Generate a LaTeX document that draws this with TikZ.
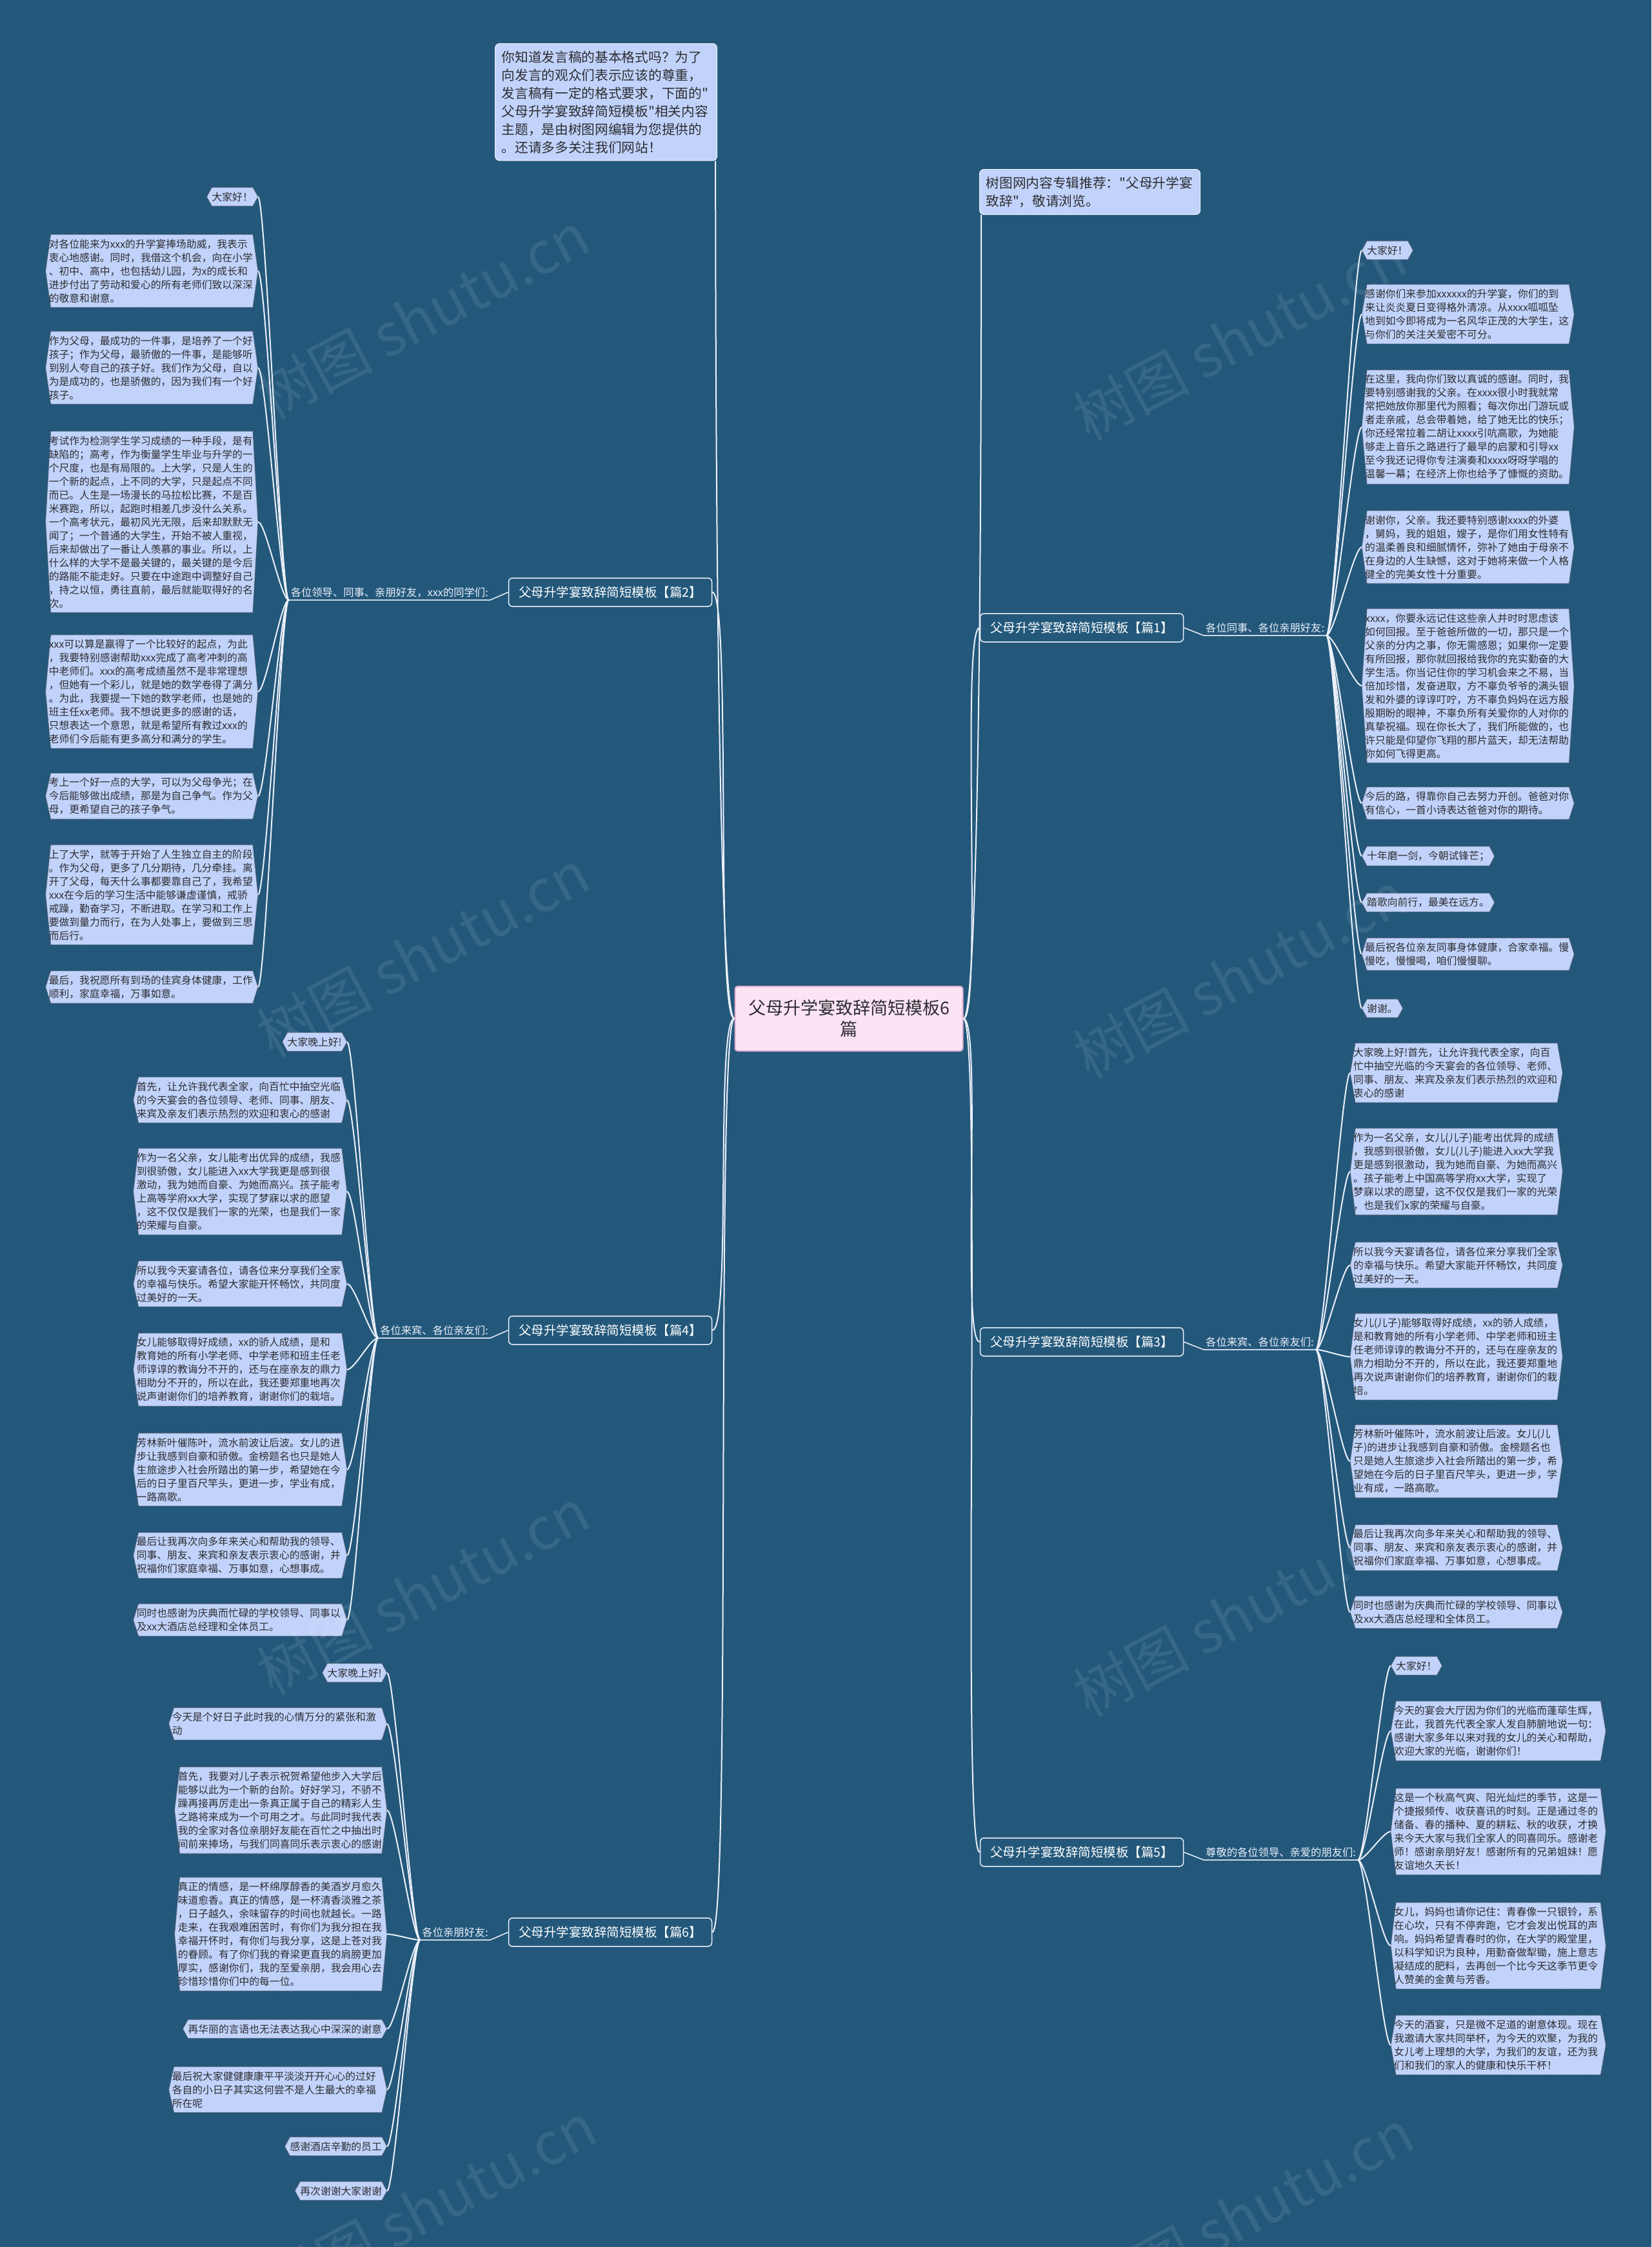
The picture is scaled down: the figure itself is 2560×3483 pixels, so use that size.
\documentclass[tikz,border=0pt]{standalone}
\usepackage{fontspec}
\newfontfamily\cjk{Noto Sans CJK SC}
\usetikzlibrary{calc,backgrounds}
\definecolor{bgblue}{RGB}{35,88,123}
\definecolor{leaffill}{RGB}{193,211,250}
\definecolor{leafline}{RGB}{70,75,90}
\definecolor{leaftext}{RGB}{45,45,50}
\definecolor{pinkfill}{RGB}{253,228,245}
\definecolor{pinkline}{RGB}{225,175,210}
\definecolor{linecol}{RGB}{235,240,250}
\tikzset{
  leaf/.style={font=\cjk\fontsize{15.8}{21}\selectfont, text=leaftext, inner xsep=5pt, inner ysep=7pt, align=left},
  sleaf/.style={font=\cjk\fontsize{15.8}{21}\selectfont, text=leaftext, inner xsep=8pt, inner ysep=7pt},
  hexa/.style={fill=leaffill, draw=leafline, densely dotted, line width=1.1pt},
  conn/.style={draw=linecol, line width=2pt},
  branch/.style={font=\cjk\fontsize{19.5}{24}\selectfont, text=white, draw=linecol, line width=1.5pt, rounded corners=6pt, fill=bgblue, minimum width=315pt, minimum height=44pt, inner sep=2pt},
  sublabel/.style={font=\cjk\fontsize{16.3}{19}\selectfont, text=linecol, inner xsep=3pt, inner ysep=4pt},
  info/.style={font=\cjk\fontsize{20.7}{28}\selectfont, text=leaftext, fill=leaffill, draw=linecol, line width=1.2pt, rounded corners=7pt, inner xsep=10pt, inner ysep=11pt, align=left},
  wm/.style={font=\cjk\fontsize{90}{90}\selectfont, text=white, opacity=0.09, rotate=28}
}
\begin{document}
\begin{tikzpicture}[x=1pt,y=-1pt]
\useasboundingbox (0,0) rectangle (2560,3483);
\begin{scope}[on background layer]
\fill[bgblue] (0,0) rectangle (2560,3483);
\end{scope}

% watermarks
\node[wm] (w1) at (656,489) {树图 shutu.cn};
\node[wm] (w2) at (656,1478) {树图 shutu.cn};
\node[wm] (w3) at (656,2467) {树图 shutu.cn};
\node[wm] (w4) at (667,3420) {树图 shutu.cn};
\node[wm] (w5) at (1922,522) {树图 shutu.cn};
\node[wm] (w6) at (1922,1511) {树图 shutu.cn};
\node[wm] (w7) at (1922,2500) {树图 shutu.cn};
\node[wm] (w8) at (1933,3430) {树图 shutu.cn};

% center
\node[font=\cjk\fontsize{27}{33}\selectfont, text=leaftext, fill=pinkfill, draw=pinkline, line width=2pt, rounded corners=4pt, minimum width=353pt, minimum height=100pt, align=center] (c) at (1316,1579) {父母升学宴致辞简短模板6\\篇};

% info boxes
\node[info, anchor=north west, text width=324pt] (intro) at (767,67) {你知道发言稿的基本格式吗？为了\\向发言的观众们表示应该的尊重，\\发言稿有一定的格式要求，下面的"\\父母升学宴致辞简短模板"相关内容\\主题，是由树图网编辑为您提供的\\。还请多多关注我们网站！};
\node[info, anchor=north west, text width=322pt] (rec) at (1518,262) {树图网内容专辑推荐："父母升学宴\\致辞"，敬请浏览。};

% branches
\node[branch] (b2) at (946,918) {父母升学宴致辞简短模板【篇2】};
\node[branch] (b4) at (946,2062) {父母升学宴致辞简短模板【篇4】};
\node[branch] (b6) at (946,2995) {父母升学宴致辞简短模板【篇6】};
\node[branch] (b1) at (1677,973) {父母升学宴致辞简短模板【篇1】};
\node[branch] (b3) at (1677,2080) {父母升学宴致辞简短模板【篇3】};
\node[branch] (b5) at (1677,2871) {父母升学宴致辞简短模板【篇5】};

% sub labels
\node[sublabel, anchor=south east] (s2) at (760,930) {各位领导、同事、亲朋好友，xxx的同学们:};
\node[sublabel, anchor=south east] (s4) at (760,2074) {各位来宾、各位亲友们:};
\node[sublabel, anchor=south east] (s6) at (760,3007) {各位亲朋好友:};
\node[sublabel, anchor=south west] (s1) at (1866,985) {各位同事、各位亲朋好友:};
\node[sublabel, anchor=south west] (s3) at (1866,2092) {各位来宾、各位亲友们:};
\node[sublabel, anchor=south west] (s5) at (1866,2883) {尊敬的各位领导、亲爱的朋友们:};

% ---------- leaves 篇2 (left) ----------
\node[sleaf, anchor=east] (L2a) at (400,305) {大家好！};
\node[leaf, anchor=east, text width=319pt] (L2b) at (400,420) {对各位能来为xxx的升学宴捧场助威，我表示\\衷心地感谢。同时，我借这个机会，向在小学\\、初中、高中，也包括幼儿园，为x的成长和\\进步付出了劳动和爱心的所有老师们致以深深\\的敬意和谢意。};
\node[leaf, anchor=east, text width=319pt] (L2c) at (400,570) {作为父母，最成功的一件事，是培养了一个好\\孩子；作为父母，最骄傲的一件事，是能够听\\到别人夸自己的孩子好。我们作为父母，自以\\为是成功的，也是骄傲的，因为我们有一个好\\孩子。};
\node[leaf, anchor=east, text width=319pt] (L2d) at (400,809) {考试作为检测学生学习成绩的一种手段，是有\\缺陷的；高考，作为衡量学生毕业与升学的一\\个尺度，也是有局限的。上大学，只是人生的\\一个新的起点，上不同的大学，只是起点不同\\而已。人生是一场漫长的马拉松比赛，不是百\\米赛跑，所以，起跑时相差几步没什么关系。\\一个高考状元，最初风光无限，后来却默默无\\闻了；一个普通的大学生，开始不被人重视，\\后来却做出了一番让人羡慕的事业。所以，上\\什么样的大学不是最关键的，最关键的是今后\\的路能不能走好。只要在中途跑中调整好自己\\，持之以恒，勇往直前，最后就能取得好的名\\次。};
\node[leaf, anchor=east, text width=319pt] (L2e) at (400,1072) {xxx可以算是赢得了一个比较好的起点，为此\\，我要特别感谢帮助xxx完成了高考冲刺的高\\中老师们。xxx的高考成绩虽然不是非常理想\\，但她有一个彩儿，就是她的数学卷得了满分\\。为此，我要提一下她的数学老师，也是她的\\班主任xx老师。我不想说更多的感谢的话，\\只想表达一个意思，就是希望所有教过xxx的\\老师们今后能有更多高分和满分的学生。};
\node[leaf, anchor=east, text width=319pt] (L2f) at (400,1234) {考上一个好一点的大学，可以为父母争光；在\\今后能够做出成绩，那是为自己争气。作为父\\母，更希望自己的孩子争气。};
\node[leaf, anchor=east, text width=319pt] (L2g) at (400,1387) {上了大学，就等于开始了人生独立自主的阶段\\。作为父母，更多了几分期待，几分牵挂。离\\开了父母，每天什么事都要靠自己了，我希望\\xxx在今后的学习生活中能够谦虚谨慎，戒骄\\戒躁，勤奋学习，不断进取。在学习和工作上\\要做到量力而行，在为人处事上，要做到三思\\而后行。};
\node[leaf, anchor=east, text width=319pt] (L2h) at (400,1530) {最后，我祝愿所有到场的佳宾身体健康，工作\\顺利，家庭幸福，万事如意。};

% ---------- leaves 篇1 (right) ----------
\node[sleaf, anchor=west] (R1a) at (2111,388) {大家好！};
\node[leaf, anchor=west, text width=319pt] (R1b) at (2111,487) {感谢你们来参加xxxxxx的升学宴，你们的到\\来让炎炎夏日变得格外清凉。从xxxx呱呱坠\\地到如今即将成为一名风华正茂的大学生，这\\与你们的关注关爱密不可分。};
\node[leaf, anchor=west, text width=319pt] (R1c) at (2111,662) {在这里，我向你们致以真诚的感谢。同时，我\\要特别感谢我的父亲。在xxxx很小时我就常\\常把她放你那里代为照看；每次你出门游玩或\\者走亲戚，总会带着她，给了她无比的快乐；\\你还经常拉着二胡让xxxx引吭高歌，为她能\\够走上音乐之路进行了最早的启蒙和引导xx\\至今我还记得你专注演奏和xxxx呀呀学唱的\\温馨一幕；在经济上你也给予了慷慨的资助。};
\node[leaf, anchor=west, text width=319pt] (R1d) at (2111,848) {谢谢你，父亲。我还要特别感谢xxxx的外婆\\，舅妈，我的姐姐，嫂子，是你们用女性特有\\的温柔善良和细腻情怀，弥补了她由于母亲不\\在身边的人生缺憾，这对于她将来做一个人格\\健全的完美女性十分重要。};
\node[leaf, anchor=west, text width=319pt] (R1e) at (2111,1063) {xxxx，你要永远记住这些亲人并时时思虑该\\如何回报。至于爸爸所做的一切，那只是一个\\父亲的分内之事，你无需感恩；如果你一定要\\有所回报，那你就回报给我你的充实勤奋的大\\学生活。你当记住你的学习机会来之不易，当\\倍加珍惜，发奋进取，方不辜负爷爷的满头银\\发和外婆的谆谆叮咛，方不辜负妈妈在远方殷\\殷期盼的眼神，不辜负所有关爱你的人对你的\\真挚祝福。现在你长大了，我们所能做的，也\\许只能是仰望你飞翔的那片蓝天，却无法帮助\\你如何飞得更高。};
\node[leaf, anchor=west, text width=319pt] (R1f) at (2111,1245) {今后的路，得靠你自己去努力开创。爸爸对你\\有信心，一首小诗表达爸爸对你的期待。};
\node[sleaf, anchor=west] (R1g) at (2111,1327) {十年磨一剑，今朝试锋芒；};
\node[sleaf, anchor=west] (R1h) at (2111,1399) {踏歌向前行，最美在远方。};
\node[leaf, anchor=west, text width=319pt] (R1i) at (2111,1479) {最后祝各位亲友同事身体健康，合家幸福。慢\\慢吃，慢慢喝，咱们慢慢聊。};
\node[sleaf, anchor=west] (R1j) at (2111,1563) {谢谢。};

% ---------- leaves 篇4 (left) ----------
\node[sleaf, anchor=east] (L4a) at (538,1615) {大家晚上好!};
\node[leaf, anchor=east, text width=321pt] (L4b) at (538,1705) {首先，让允许我代表全家，向百忙中抽空光临\\的今天宴会的各位领导、老师、同事、朋友、\\来宾及亲友们表示热烈的欢迎和衷心的感谢};
\node[leaf, anchor=east, text width=321pt] (L4c) at (538,1847) {作为一名父亲，女儿能考出优异的成绩，我感\\到很骄傲，女儿能进入xx大学我更是感到很\\激动，我为她而自豪、为她而高兴。孩子能考\\上高等学府xx大学，实现了梦寐以求的愿望\\，这不仅仅是我们一家的光荣，也是我们一家\\的荣耀与自豪。};
\node[leaf, anchor=east, text width=321pt] (L4d) at (538,1990) {所以我今天宴请各位，请各位来分享我们全家\\的幸福与快乐。希望大家能开怀畅饮，共同度\\过美好的一天。};
\node[leaf, anchor=east, text width=321pt] (L4e) at (538,2123) {女儿能够取得好成绩，xx的骄人成绩，是和\\教育她的所有小学老师、中学老师和班主任老\\师谆谆的教诲分不开的，还与在座亲友的鼎力\\相助分不开的，所以在此，我还要郑重地再次\\说声谢谢你们的培养教育，谢谢你们的栽培。};
\node[leaf, anchor=east, text width=321pt] (L4f) at (538,2278) {芳林新叶催陈叶，流水前波让后波。女儿的进\\步让我感到自豪和骄傲。金榜题名也只是她人\\生旅途步入社会所踏出的第一步，希望她在今\\后的日子里百尺竿头，更进一步，学业有成，\\一路高歌。};
\node[leaf, anchor=east, text width=321pt] (L4g) at (538,2411) {最后让我再次向多年来关心和帮助我的领导、\\同事、朋友、来宾和亲友表示衷心的感谢，并\\祝福你们家庭幸福、万事如意，心想事成。};
\node[leaf, anchor=east, text width=321pt] (L4h) at (538,2511) {同时也感谢为庆典而忙碌的学校领导、同事以\\及xx大酒店总经理和全体员工。};

% ---------- leaves 篇3 (right) ----------
\node[leaf, anchor=west, text width=319pt] (R3a) at (2093,1663) {大家晚上好!首先，让允许我代表全家，向百\\忙中抽空光临的今天宴会的各位领导、老师、\\同事、朋友、来宾及亲友们表示热烈的欢迎和\\衷心的感谢};
\node[leaf, anchor=west, text width=319pt] (R3b) at (2093,1816) {作为一名父亲，女儿(儿子)能考出优异的成绩\\，我感到很骄傲，女儿(儿子)能进入xx大学我\\更是感到很激动，我为她而自豪、为她而高兴\\。孩子能考上中国高等学府xx大学，实现了\\梦寐以求的愿望，这不仅仅是我们一家的光荣\\，也是我们x家的荣耀与自豪。};
\node[leaf, anchor=west, text width=319pt] (R3c) at (2093,1961) {所以我今天宴请各位，请各位来分享我们全家\\的幸福与快乐。希望大家能开怀畅饮，共同度\\过美好的一天。};
\node[leaf, anchor=west, text width=319pt] (R3d) at (2093,2103) {女儿(儿子)能够取得好成绩，xx的骄人成绩，\\是和教育她的所有小学老师、中学老师和班主\\任老师谆谆的教诲分不开的，还与在座亲友的\\鼎力相助分不开的，所以在此，我还要郑重地\\再次说声谢谢你们的培养教育，谢谢你们的栽\\培。};
\node[leaf, anchor=west, text width=319pt] (R3e) at (2093,2265) {芳林新叶催陈叶，流水前波让后波。女儿(儿\\子)的进步让我感到自豪和骄傲。金榜题名也\\只是她人生旅途步入社会所踏出的第一步，希\\望她在今后的日子里百尺竿头，更进一步，学\\业有成，一路高歌。};
\node[leaf, anchor=west, text width=319pt] (R3f) at (2093,2399) {最后让我再次向多年来关心和帮助我的领导、\\同事、朋友、来宾和亲友表示衷心的感谢，并\\祝福你们家庭幸福、万事如意，心想事成。};
\node[leaf, anchor=west, text width=319pt] (R3g) at (2093,2499) {同时也感谢为庆典而忙碌的学校领导、同事以\\及xx大酒店总经理和全体员工。};

% ---------- leaves 篇6 (left) ----------
\node[sleaf, anchor=east] (L6a) at (600,2593) {大家晚上好!};
\node[leaf, anchor=east, text width=328pt] (L6b) at (600,2672) {今天是个好日子此时我的心情万分的紧张和激\\动};
\node[leaf, anchor=east, text width=319pt] (L6c) at (600,2806) {首先，我要对儿子表示祝贺希望他步入大学后\\能够以此为一个新的台阶。好好学习，不骄不\\躁再接再厉走出一条真正属于自己的精彩人生\\之路将来成为一个可用之才。与此同时我代表\\我的全家对各位亲朋好友能在百忙之中抽出时\\间前来捧场，与我们同喜同乐表示衷心的感谢};
\node[leaf, anchor=east, text width=319pt] (L6d) at (600,2998) {真正的情感，是一杯绵厚醇香的美酒岁月愈久\\味道愈香。真正的情感，是一杯清香淡雅之茶\\，日子越久，余味留存的时间也就越长。一路\\走来，在我艰难困苦时，有你们为我分担在我\\幸福开怀时，有你们与我分享，这是上苍对我\\的眷顾。有了你们我的脊梁更直我的肩膀更加\\厚实，感谢你们，我的至爱亲朋，我会用心去\\珍惜珍惜你们中的每一位。};
\node[sleaf, anchor=east] (L6e) at (600,3145) {再华丽的言语也无法表达我心中深深的谢意};
\node[leaf, anchor=east, text width=328pt] (L6f) at (600,3239) {最后祝大家健健康康平平淡淡开开心心的过好\\各自的小日子其实这何尝不是人生最大的幸福\\所在呢};
\node[sleaf, anchor=east] (L6g) at (600,3327) {感谢酒店辛勤的员工};
\node[sleaf, anchor=east] (L6h) at (600,3396) {再次谢谢大家谢谢};

% ---------- leaves 篇5 (right) ----------
\node[sleaf, anchor=west] (R5a) at (2156,2582) {大家好！};
\node[leaf, anchor=west, text width=323pt] (R5b) at (2156,2683) {今天的宴会大厅因为你们的光临而蓬荜生辉，\\在此，我首先代表全家人发自肺腑地说一句：\\感谢大家多年以来对我的女儿的关心和帮助，\\欢迎大家的光临，谢谢你们！};
\node[leaf, anchor=west, text width=323pt] (R5c) at (2156,2839) {这是一个秋高气爽、阳光灿烂的季节，这是一\\个捷报频传、收获喜讯的时刻。正是通过冬的\\储备、春的播种、夏的耕耘、秋的收获，才换\\来今天大家与我们全家人的同喜同乐。感谢老\\师！感谢亲朋好友！感谢所有的兄弟姐妹！愿\\友谊地久天长！};
\node[leaf, anchor=west, text width=323pt] (R5d) at (2156,3016) {女儿，妈妈也请你记住：青春像一只银铃，系\\在心坎，只有不停奔跑，它才会发出悦耳的声\\响。妈妈希望青春时的你，在大学的殿堂里，\\以科学知识为良种，用勤奋做犁锄，施上意志\\凝结成的肥料，去再创一个比今天这季节更令\\人赞美的金黄与芳香。};
\node[leaf, anchor=west, text width=323pt] (R5e) at (2156,3170) {今天的酒宴，只是微不足道的谢意体现。现在\\我邀请大家共同举杯，为今天的欢聚，为我的\\女儿考上理想的大学，为我们的友谊，还为我\\们和我们的家人的健康和快乐干杯！};

% hexagon shapes behind leaves
\begin{scope}[on background layer]
\foreach \n in {L2a,L2b,L2c,L2d,L2e,L2f,L2g,L2h,R1a,R1b,R1c,R1d,R1e,R1f,R1g,R1h,R1i,R1j,L4a,L4b,L4c,L4d,L4e,L4f,L4g,L4h,R3a,R3b,R3c,R3d,R3e,R3f,R3g,L6a,L6b,L6c,L6d,L6e,L6f,L6g,L6h,R5a,R5b,R5c,R5d,R5e}{
  \draw[hexa] ($(\n.north west)+(8,0)$) -- ($(\n.north east)+(-8,0)$) -- (\n.east) -- ($(\n.south east)+(-8,0)$) -- ($(\n.south west)+(8,0)$) -- (\n.west) -- cycle;
}
\end{scope}

% connectors: center to branches and info boxes
\draw[conn] (c.west) .. controls +(-30,0) and +(0,40) .. ($(intro.south east)+(-3,0)$);
\draw[conn] (c.east) .. controls +(30,0) and +(0,40) .. ($(rec.south west)+(3,0)$);
\foreach \b in {b2,b4,b6}{\draw[conn] (c.west) .. controls +(-30,0) and +(30,0) .. (\b.east);}
\foreach \b in {b1,b3,b5}{\draw[conn] (c.east) .. controls +(30,0) and +(-30,0) .. (\b.west);}

% branch to sublabel (underline)
\foreach \s/\b in {s2/b2,s4/b4,s6/b6}{\draw[conn,line width=1.5pt] (\s.south west) -- (\s.south east) -- (\b.west);}
\foreach \s/\b in {s1/b1,s3/b3,s5/b5}{\draw[conn,line width=1.5pt] (\s.south east) -- (\s.south west) -- (\b.east);}

% sublabel to leaves
\foreach \n in {L2a,L2b,L2c,L2d,L2e,L2f,L2g,L2h}{\draw[conn] (s2.south west) .. controls +(-12,0) and +(12,0) .. (\n.east);}
\foreach \n in {L4a,L4b,L4c,L4d,L4e,L4f,L4g,L4h}{\draw[conn] (s4.south west) .. controls +(-12,0) and +(12,0) .. (\n.east);}
\foreach \n in {L6a,L6b,L6c,L6d,L6e,L6f,L6g,L6h}{\draw[conn] (s6.south west) .. controls +(-12,0) and +(12,0) .. (\n.east);}
\foreach \n in {R1a,R1b,R1c,R1d,R1e,R1f,R1g,R1h,R1i,R1j}{\draw[conn] (s1.south east) .. controls +(12,0) and +(-12,0) .. (\n.west);}
\foreach \n in {R3a,R3b,R3c,R3d,R3e,R3f,R3g}{\draw[conn] (s3.south east) .. controls +(12,0) and +(-12,0) .. (\n.west);}
\foreach \n in {R5a,R5b,R5c,R5d,R5e}{\draw[conn] (s5.south east) .. controls +(12,0) and +(-12,0) .. (\n.west);}
\end{tikzpicture}
\end{document}
